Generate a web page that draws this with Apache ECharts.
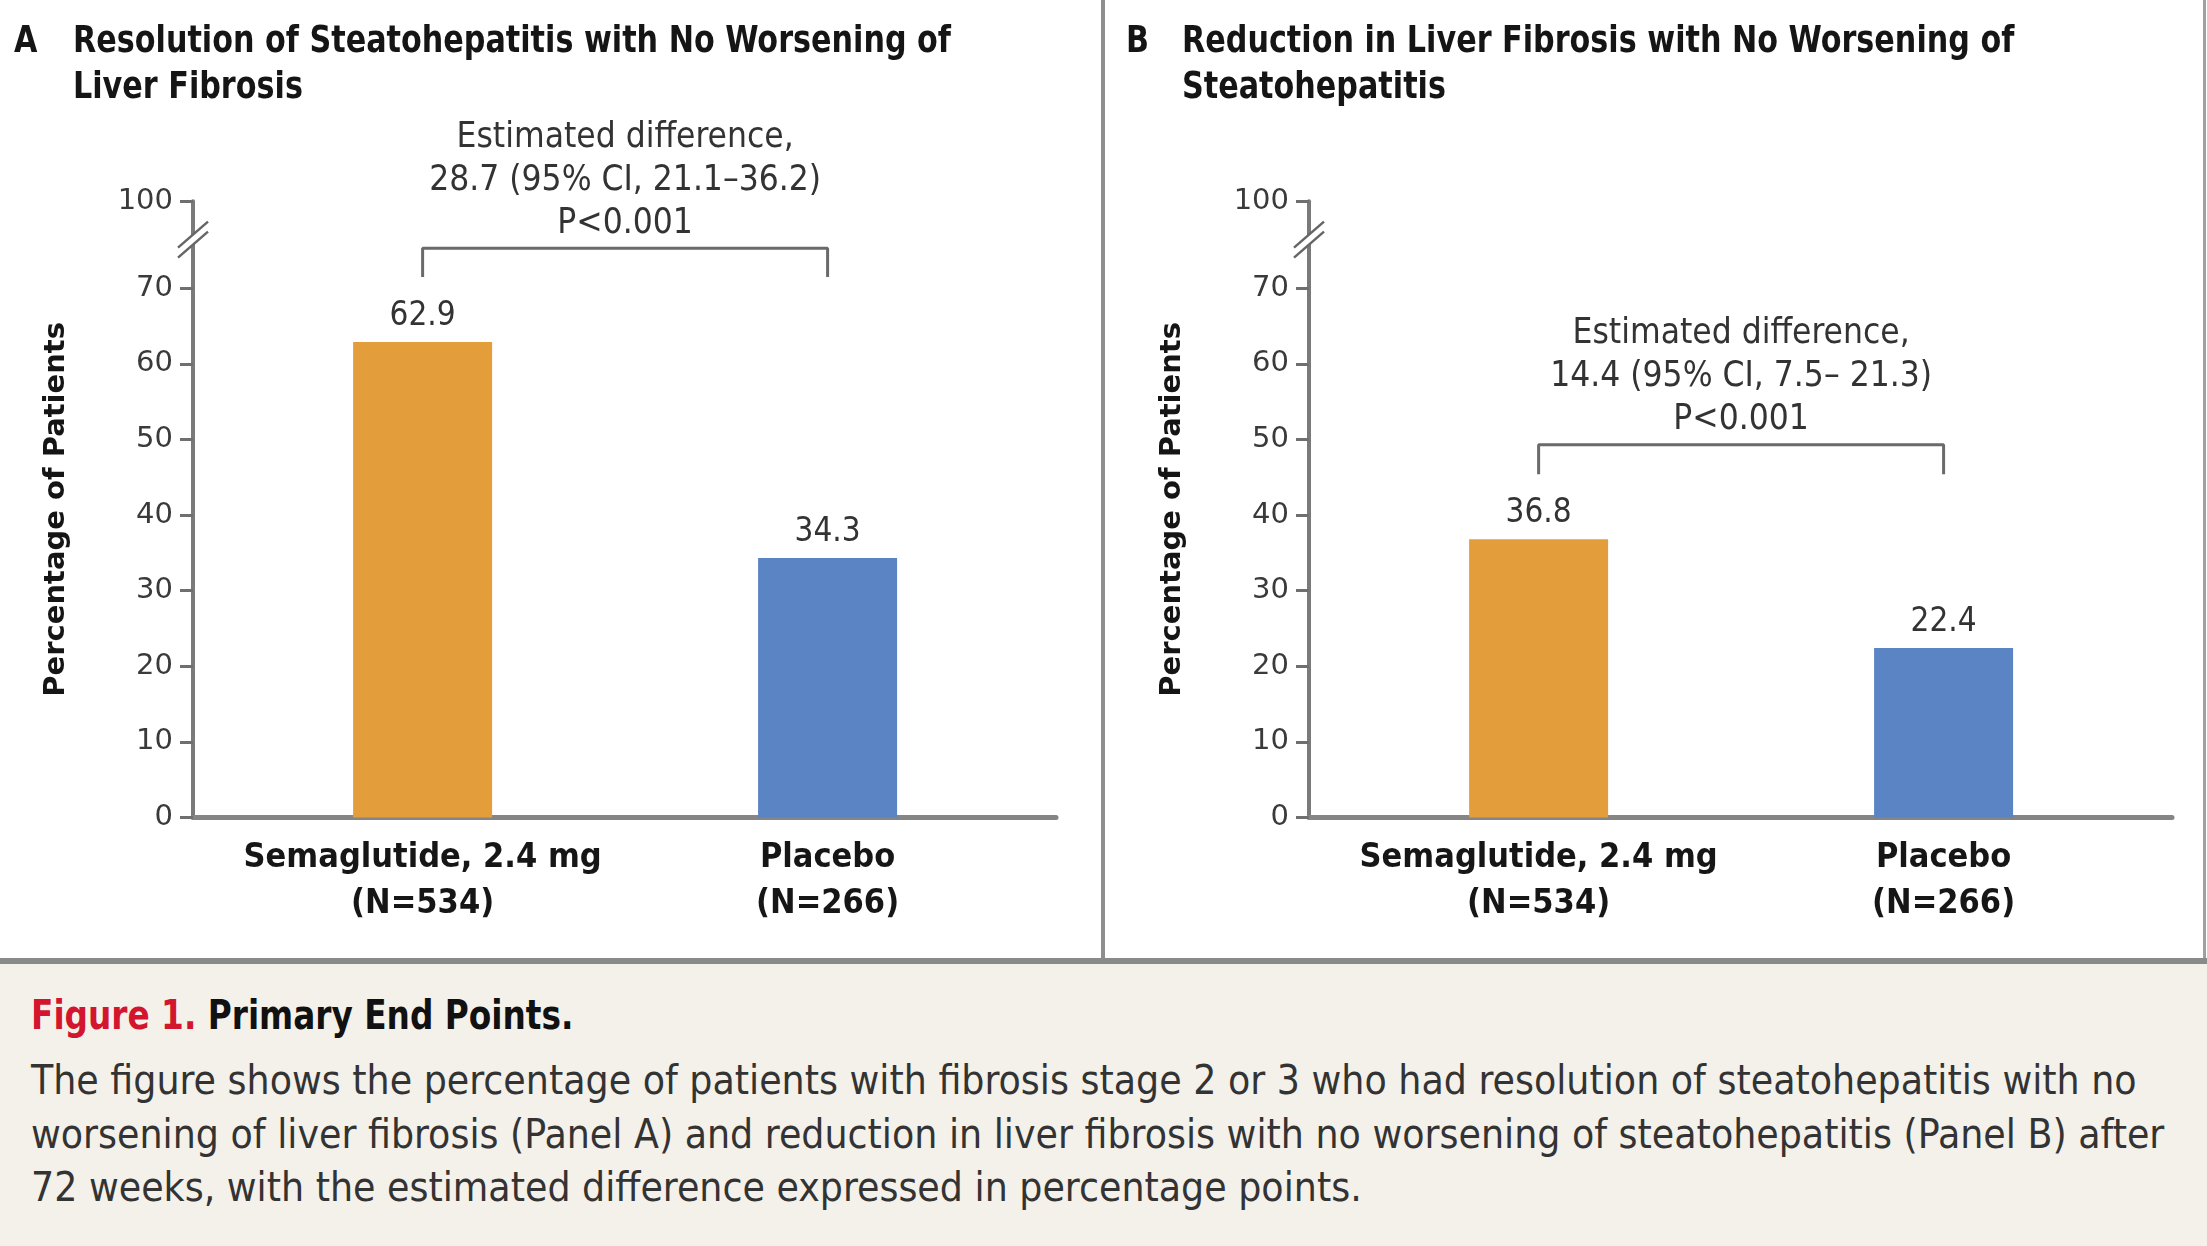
<!DOCTYPE html>
<html>
<head>
<meta charset="utf-8">
<script src="https://cdn.jsdelivr.net/npm/echarts@6/dist/echarts.min.js"></script>
<style>
html,body{margin:0;padding:0;background:#fff;width:2207px;height:1246px;overflow:hidden;}
#chart{position:absolute;left:0;top:0;width:2207px;height:960px;}
#divider{position:absolute;left:1101px;top:0;width:4px;height:960px;background:#8e8e8e;}
#rightEdge{position:absolute;left:2203px;top:0;width:3px;height:960px;background:#a0a0a0;}
#caption{position:absolute;left:0;top:958px;width:2207px;height:288px;background:#f4f1eb;border-top:6px solid #8a8a8a;box-sizing:border-box;
  font-family:'Liberation Sans Narrow','DejaVu Sans Condensed',sans-serif;}
#capTitle{position:absolute;left:31px;top:24px;font-size:40px;line-height:54px;font-weight:bold;color:#111;white-space:nowrap;
  transform:scaleX(0.91);transform-origin:0 0;}
#capTitle .fig{color:#d3152e;}
#capBody{position:absolute;left:31px;top:90px;font-size:40.5px;line-height:53.5px;color:#333;white-space:nowrap;}
</style>
</head>
<body>
<div id="chart"></div>
<div id="divider"></div>
<div id="rightEdge"></div>
<div id="caption">
  <div id="capTitle"><span class="fig">Figure 1.</span> Primary End Points.</div>
  <div id="capBody"></div>
</div>
<script>
// ---------------- data ----------------
const categories = ['Semaglutide, 2.4 mg\n(N=534)', 'Placebo\n(N=266)'];
const panelLetters = ['A', 'B'];
const panelTitles = [
  'Resolution of Steatohepatitis with No Worsening of\nLiver Fibrosis',
  'Reduction in Liver Fibrosis with No Worsening of\nSteatohepatitis'
];
const valuesA = [62.9, 34.3];
const valuesB = [36.8, 22.4];
const yTicks = [0, 10, 20, 30, 40, 50, 60, 70, 100];
const annotationA = ['Estimated difference,', '28.7 (95% CI, 21.1\u201336.2)', 'P<0.001'];
const annotationB = ['Estimated difference,', '14.4 (95% CI, 7.5\u2013 21.3)', 'P<0.001'];
const bracketTopA = 75.3, bracketFootA = 71.5;
const bracketTopB = 49.3, bracketFootB = 45.4;
const yAxisTitle = 'Percentage of Patients';
const captionLines = [
  'The figure shows the percentage of patients with fibrosis stage 2 or 3 who had resolution of steatohepatitis with no',
  'worsening of liver fibrosis (Panel A) and reduction in liver fibrosis with no worsening of steatohepatitis (Panel B) after',
  '72 weeks, with the estimated difference expressed in percentage points.'
];

// ---------------- layout / style ----------------
const FONT_C = "'Liberation Sans Narrow','DejaVu Sans Condensed',sans-serif";
const FONT_W = "'DejaVu Sans',Verdana,sans-serif";
const ORANGE = '#e39d3b', BLUE = '#5a84c3';
const BREAK_LOW = 70;      // last value below the axis break
const AXIS_TOP = 81.5;     // axis position where the value 100 is drawn (after the break)
const BREAK_AT = 76.3;     // axis position of the // marks
const XMIN = -0.567, XMAX = 1.564;
const gridLefts = [193, 1309];
const letterLefts = [14, 1126];
const titleLefts = [73, 1182];

document.getElementById('capBody').innerHTML = captionLines.join('<br>');

function toAxis(v) { return v <= BREAK_LOW ? v : AXIS_TOP; }
const yTickPos = yTicks.map(toAxis);

const chart = echarts.init(document.getElementById('chart'), null, {renderer: 'canvas'});

const grids = [], xAxes = [], yAxes = [], series = [];
const panelValues = [valuesA, valuesB];
const brackets = [[bracketTopA, bracketFootA], [bracketTopB, bracketFootB]];

for (let i = 0; i < 2; i++) {
  grids.push({left: gridLefts[i], top: 201.3, width: 863, height: 616.1, containLabel: false});
  xAxes.push({
    type: 'value', gridIndex: i, min: XMIN, max: XMAX,
    splitLine: {show: false},
    axisTick: {show: false},
    axisLine: {show: true, onZero: false, lineStyle: {color: '#858585', width: 5}},
    axisLabel: {
      customValues: [0, 1], margin: 18,
      formatter: v => categories[Math.round(v)],
      fontFamily: FONT_C, fontWeight: 'bold', fontSize: 34, lineHeight: 46, color: '#161616'
    }
  });
  yAxes.push({
    type: 'value', gridIndex: i, min: 0, max: AXIS_TOP,
    splitLine: {show: false},
    axisLine: {show: true, onZero: false, lineStyle: {color: '#7a7a7a', width: 4}},
    axisTick: {show: true, length: 13, customValues: yTickPos, lineStyle: {color: '#6f6f6f', width: 3}},
    axisLabel: {
      customValues: yTickPos, margin: 20,
      formatter: v => String(yTicks[yTickPos.indexOf(v)]),
      fontFamily: FONT_W, fontSize: 29, color: '#3a3a3a'
    },
    name: yAxisTitle, nameLocation: 'middle', nameRotate: 90, nameGap: 122,
    nameTextStyle: {fontFamily: FONT_W, fontWeight: 'bold', fontSize: 29, color: '#151515'}
  });
  series.push({
    type: 'bar', xAxisIndex: i, yAxisIndex: i, barWidth: 139,
    data: panelValues[i].map((v, k) => ({value: [k, v], itemStyle: {color: k === 0 ? ORANGE : BLUE}})),
    label: {
      show: true, position: 'top', distance: 9,
      formatter: p => p.value[1].toFixed(1),
      fontFamily: FONT_C, fontSize: 33, color: '#333'
    },
    silent: true
  });
  const [bt, bf] = brackets[i];
  series.push({
    type: 'line', xAxisIndex: i, yAxisIndex: i, symbol: 'none', silent: true,
    lineStyle: {color: '#6a6a6a', width: 3},
    data: [[0, bf], [0, bt], [1, bt], [1, bf]]
  });
}

chart.setOption({
  animation: false,
  backgroundColor: '#ffffff',
  grid: grids,
  xAxis: xAxes,
  yAxis: yAxes,
  series: series
});

// decorations: panel titles, break marks and annotations (positioned from the axes)
const annotations = [annotationA, annotationB];
const graphics = [];
const titleStyle = {fontFamily: FONT_C, fontWeight: 'bold', fontSize: 38, lineHeight: 46, fill: '#151515', verticalAlign: 'top'};
for (let i = 0; i < 2; i++) {
  graphics.push({type: 'text', x: letterLefts[i], y: 19, scaleX: 0.884, silent: true,
    style: Object.assign({text: panelLetters[i]}, titleStyle)});
  graphics.push({type: 'text', x: titleLefts[i], y: 19, scaleX: 0.884, silent: true,
    style: Object.assign({text: panelTitles[i]}, titleStyle)});

  const finder = {xAxisIndex: i, yAxisIndex: i};
  const [cx, cy] = chart.convertToPixel(finder, [XMIN, BREAK_AT]);
  graphics.push({
    type: 'polygon', z: 100, silent: true,
    shape: {points: [[cx - 14, cy + 6], [cx + 14, cy - 18], [cx + 14, cy - 8], [cx - 14, cy + 16]]},
    style: {fill: '#ffffff'}
  });
  graphics.push({type: 'line', z: 101, silent: true,
    shape: {x1: cx - 15, y1: cy + 7, x2: cx + 15, y2: cy - 19}, style: {stroke: '#666', lineWidth: 2.5}});
  graphics.push({type: 'line', z: 101, silent: true,
    shape: {x1: cx - 15, y1: cy + 17, x2: cx + 15, y2: cy - 9}, style: {stroke: '#666', lineWidth: 2.5}});
  const [mx, my] = chart.convertToPixel(finder, [0.5, brackets[i][0]]);
  graphics.push({
    type: 'text', z: 100, silent: true, x: mx, y: my - 3,
    style: {
      text: annotations[i].join('\n'), align: 'center', verticalAlign: 'bottom',
      fontFamily: FONT_C, fontSize: 35, lineHeight: 43, fill: '#333'
    }
  });
}
chart.setOption({graphic: graphics});
</script>
</body>
</html>
